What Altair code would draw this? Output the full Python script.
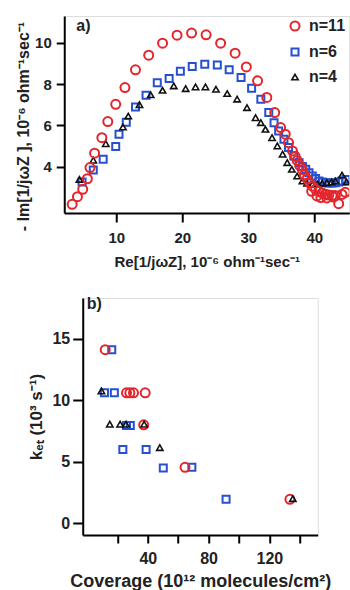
import altair as alt
import pandas as pd

FONT = "Liberation Sans"

series_names = ["n=11", "n=6", "n=4"]
series_colors = ["#e3262c", "#2650cf", "#111111"]
series_shapes = ["circle", "square", "triangle-up"]
panel_labels = ["a)", "b)"]

# ---------------- panel a : admittance plot ----------------
a_x_n11 = [3.3, 4.1, 4.9, 5.6, 6.0, 6.7, 7.8, 8.7, 9.9, 11.3, 12.9, 14.9, 17.0, 19.2,
           21.4, 23.6, 25.8, 28.0, 29.7, 31.4, 32.8, 34.0, 34.9, 35.6, 36.1, 36.7,
           37.1, 37.4, 37.8, 38.2, 38.5, 38.9, 39.3, 39.7, 40.2, 40.7, 41.2, 41.7,
           42.2, 42.7, 43.2, 43.7, 44.2, 44.7, 39.6, 40.4, 41.0, 41.9, 42.9]
a_y_n11 = [2.17, 2.54, 2.90, 3.41, 3.95, 4.65, 5.40, 6.18, 7.02, 7.83, 8.69, 9.40, 9.98, 10.37,
           10.47, 10.39, 9.98, 9.50, 8.83, 8.16, 7.35, 6.62, 5.89, 5.57, 5.16, 4.76,
           4.50, 4.30, 4.05, 3.85, 3.60, 3.40, 3.20, 3.05, 2.90, 2.80, 2.72, 2.66,
           2.62, 2.60, 2.60, 2.20, 2.65, 2.75, 2.80, 2.58, 2.50, 2.48, 2.52]

a_x_n6 = [4.8, 6.5, 8.0, 9.9, 10.4, 11.5, 12.9, 14.5, 16.2, 18.0, 19.7, 21.5, 23.4, 25.3,
          27.1, 28.9, 30.5, 31.9, 33.1, 33.9, 34.6, 35.4, 36.1, 36.9, 37.7, 38.2, 38.7,
          39.2, 39.7, 40.2, 40.7, 41.2, 41.7, 42.2, 42.7, 43.2, 43.7, 44.2, 44.8]
a_y_n6 = [3.25, 3.83, 4.35, 4.97, 5.57, 6.15, 6.89, 7.46, 8.07, 8.27, 8.62, 8.85, 8.96, 8.92,
          8.69, 8.32, 7.80, 7.27, 6.62, 6.13, 5.73, 5.33, 4.92, 4.51, 4.19, 4.00, 3.87,
          3.70, 3.54, 3.42, 3.30, 3.25, 3.22, 3.20, 3.20, 3.22, 3.25, 3.30, 3.38]

a_x_n4 = [4.4, 6.5, 8.4, 11.0, 11.8, 13.5, 15.2, 17.0, 18.7, 20.5, 22.0, 23.5, 25.1, 26.8,
          28.3, 29.8, 31.1, 31.9, 32.6, 33.6, 34.4, 35.2, 35.9, 36.6, 37.4, 38.2, 38.9,
          39.7, 40.5, 41.2, 41.9, 42.6, 43.2, 44.2, 44.9]
a_y_n4 = [3.38, 4.31, 5.11, 5.92, 6.45, 7.00, 7.48, 7.70, 7.91, 7.78, 7.86, 7.86, 7.75, 7.54,
          7.27, 6.86, 6.37, 6.13, 5.81, 5.40, 5.00, 4.60, 4.19, 3.87, 3.54, 3.30, 3.20,
          3.14, 3.15, 3.20, 3.22, 3.25, 3.30, 3.59, 3.25]

a_x_ticks = [10, 20, 30, 40]
a_y_ticks = [4, 6, 8, 10]
a_x_title = "Re[1/jωZ], 10⁻⁶ ohm⁻¹sec⁻¹"
a_y_title = "- Im[1/jωZ ], 10⁻⁶ ohm⁻¹sec⁻¹"

# ---------------- panel b : rate vs coverage ----------------
b_x_n11 = [12.0, 26.0, 28.2, 30.6, 38.3, 37.3, 64.5, 133.5]
b_y_n11 = [14.1, 10.6, 10.6, 10.6, 10.6, 8.0, 4.55, 1.95]
b_x_n6 = [16.3, 11.5, 18.0, 26.0, 28.5, 23.6, 38.9, 50.2, 69.0, 91.5]
b_y_n6 = [14.1, 10.6, 10.6, 7.95, 7.95, 6.0, 6.0, 4.5, 4.55, 1.95]
b_x_n4 = [9.5, 15.0, 21.8, 25.7, 37.6, 47.9, 135.4]
b_y_n4 = [10.75, 8.05, 8.05, 8.05, 8.05, 6.15, 2.0]

b_x_ticks = [20, 40, 60, 80, 100, 120, 140]
b_y_ticks = [0, 5, 10, 15]
b_x_title = "Coverage (10¹² molecules/cm²)"
b_y_title = "kₑₜ (10³ s⁻¹)"


def frame(pairs):
    parts = []
    for name, xs, ys in pairs:
        parts.append(pd.DataFrame({"x": xs, "y": ys, "series": name}))
    return pd.concat(parts, ignore_index=True)


# drawing order = row order
df_a = frame([("n=6", a_x_n6, a_y_n6), ("n=4", a_x_n4, a_y_n4), ("n=11", a_x_n11, a_y_n11)])
df_b = frame([("n=6", b_x_n6, b_y_n6), ("n=11", b_x_n11, b_y_n11), ("n=4", b_x_n4, b_y_n4)])

axis_style = dict(
    grid=False, domainColor="black", domainWidth=2, tickColor="black", tickWidth=2,
    labelFont=FONT, labelFontWeight="bold", labelColor="#222",
    titleFont=FONT, titleFontWeight="bold", titleColor="#222",
)


def legend(x, y, fs, rowpad):
    return alt.Legend(
        title=None, orient="none", legendX=x, legendY=y,
        labelFont=FONT, labelFontSize=fs, labelFontWeight="bold", labelColor="#222",
        symbolStrokeWidth=2, rowPadding=rowpad, labelOffset=6,
    )


def series_enc(leg, sizes, widths):
    return dict(
        color=alt.Color("series:N", scale=alt.Scale(domain=series_names, range=series_colors), legend=leg),
        shape=alt.Shape("series:N", scale=alt.Scale(domain=series_names, range=series_shapes), legend=leg),
        size=alt.Size("series:N", scale=alt.Scale(type="ordinal", domain=series_names, range=sizes), legend=leg),
        strokeWidth=alt.StrokeWidth("series:N", scale=alt.Scale(type="ordinal", domain=series_names, range=widths), legend=None),
    )


leg_a = legend(223, 2, 16, 9)
pts_a = alt.Chart(df_a).mark_point(filled=False, opacity=1, clip=True).encode(
    x=alt.X("x:Q", scale=alt.Scale(domain=[2.1, 45.3], nice=False, zero=False),
            axis=alt.Axis(values=a_x_ticks, title=a_x_title, tickSize=9, labelFontSize=15,
                          labelPadding=8, titleFontSize=15, titlePadding=9, **axis_style)),
    y=alt.Y("y:Q", scale=alt.Scale(domain=[1.75, 11.3], nice=False, zero=False),
            axis=alt.Axis(values=a_y_ticks, title=a_y_title, tickSize=8, labelFontSize=15,
                          labelPadding=5, titleFontSize=16, titlePadding=3, titleY=110,
                          **axis_style)),
    **series_enc(leg_a, [81, 49, 40], [2, 2, 1.6]),
)
lab_a = alt.Chart(pd.DataFrame({"t": [panel_labels[0]]})).mark_text(
    align="left", baseline="middle", font=FONT, fontSize=16, fontWeight="bold", color="#222"
).encode(text="t:N", x=alt.value(12), y=alt.value(10))
panel_a = alt.layer(pts_a, lab_a).properties(width=285, height=197)

leg_b = legend(195, 30, 15, 7)
pts_b = alt.Chart(df_b).mark_point(filled=False, opacity=1).encode(
    x=alt.X("x:Q", scale=alt.Scale(domain=[-2.8, 151.8], nice=False, zero=False),
            axis=alt.Axis(values=b_x_ticks, title=b_x_title, tickSize=8, labelFontSize=16,
                          labelExpr="datum.value % 40 === 0 ? datum.label : ''",
                          labelPadding=7, titleFontSize=18, titlePadding=6, **axis_style)),
    y=alt.Y("y:Q", scale=alt.Scale(domain=[-0.95, 18.3], nice=False, zero=False),
            axis=alt.Axis(values=b_y_ticks, title=b_y_title, tickSize=10, labelFontSize=16,
                          labelPadding=3, titleFontSize=17, titlePadding=6, **axis_style)),
    **series_enc(leg_b, [49, 64, 100], [2, 2, 2]),
)
lab_b = alt.Chart(pd.DataFrame({"t": [panel_labels[1]]})).mark_text(
    align="left", baseline="middle", font=FONT, fontSize=16, fontWeight="bold", color="#222"
).encode(text="t:N", x=alt.value(4), y=alt.value(6))
panel_b = alt.layer(pts_b, lab_b).properties(width=235, height=237)

chart = alt.vconcat(panel_a, panel_b, spacing=25, center=True).properties(
    padding={"left": 15, "top": 15, "right": 0, "bottom": 0}
).configure_view(stroke=None).configure(background="white")

chart.save("out.html", embed_options={"renderer": "svg", "actions": False})
